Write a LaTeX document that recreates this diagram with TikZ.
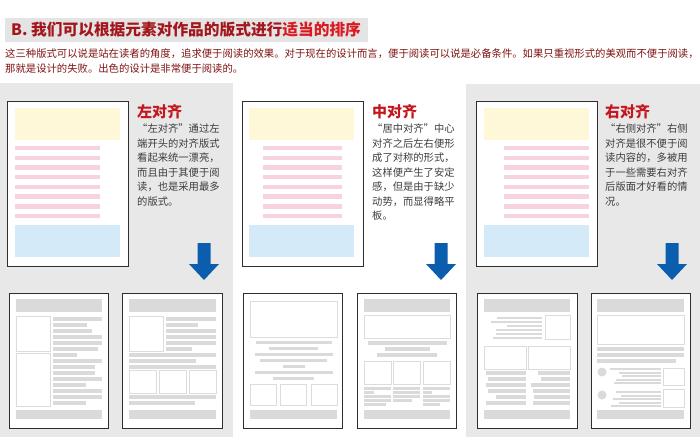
\documentclass[tikz,border=0pt]{standalone}
\usepackage{fontspec}
\setmainfont{Noto Sans CJK SC}
\usetikzlibrary{calc}

\definecolor{panelgray}{HTML}{E8E8E8}
\definecolor{titlegray}{HTML}{E4E4E4}
\definecolor{titlered}{HTML}{A3161C}
\definecolor{hotred}{HTML}{DA1A21}
\definecolor{introred}{HTML}{7E1111}
\definecolor{headred}{HTML}{C4161C}
\definecolor{desctext}{HTML}{3C3C3C}
\definecolor{pageline}{HTML}{2E2E2E}
\definecolor{bargray}{HTML}{DADADA}
\definecolor{boxline}{HTML}{DCDCDC}
\definecolor{headyellow}{HTML}{FFF8D8}
\definecolor{linepink}{HTML}{F6D3DF}
\definecolor{footblue}{HTML}{D4EAF8}
\definecolor{arrowblue}{HTML}{0B5EAE}

\tikzset{
  page/.style={draw=pageline, fill=white, line width=0.9pt, inner sep=0pt},
  bigpage/.style={page, minimum width=121pt, minimum height=165pt, anchor=north west},
  picbox/.style={draw=boxline, fill=white, line width=0.9pt},
  alignhead/.style={text=headred, font=\fontsize{15}{15}\selectfont\bfseries, inner sep=0pt, anchor=west},
  aligntext/.style={text=desctext, font=\fontsize{10.3}{14.5}\selectfont, align=left, inner sep=0pt, anchor=north west},
}

\begin{document}
\begin{tikzpicture}[x=1pt,y=-1pt]
\useasboundingbox (0,0) rectangle (700,437);

\fill[titlegray] (5,18) rectangle (368,42);
\draw node[anchor=west, inner sep=0pt, font=\fontsize{15.7}{16}\selectfont\bfseries] (title) at (11,30)
  {\textcolor{titlered}{B. 我们可以根据元素对作品的版式进行}\textcolor{hotred}{适当的排序}};
\draw node[anchor=north west, inner sep=0pt, text=introred, font=\fontsize{10.35}{15}\selectfont, align=left] (intro) at (5,48.5)
  {这三种版式可以说是站在读者的角度，追求便于阅读的效果。对于现在的设计而言，便于阅读可以说是必备条件。如果只重视形式的美观而不便于阅读，\\那就是设计的失败。出色的设计是非常便于阅读的。};

\fill[panelgray] (0,83) rectangle (233,437);
\fill[panelgray] (466,84) rectangle (700,437);

\draw node[bigpage] (leftpage) at (7,101) {};
\fill[headyellow] ($(leftpage.north west)+(8,7)$) rectangle +(105,32);
\foreach \k in {0,...,7}
  \fill[linepink] ($(leftpage.north west)+(8,44.8+9.7*\k)$) rectangle +(85,4.5);
\fill[footblue] ($(leftpage.north west)+(8,124)$) rectangle +(105,32);
\draw node[alignhead] (lefthead) at (137,112) {左对齐};
\draw node[aligntext] (lefttext) at (137,124)
  {“左对齐”通过左\\端开头的对齐版式\\看起来统一漂亮，\\而且由于其便于阅\\读，也是采用最多\\的版式。};

\draw node[bigpage] (midpage) at (242,101) {};
\fill[headyellow] ($(midpage.north west)+(7,7)$) rectangle +(105,32);
\foreach \k in {0,...,7}
  \fill[linepink] ($(midpage.north west)+(21,44.8+9.7*\k)$) rectangle +(79,4.5);
\fill[footblue] ($(midpage.north west)+(7,124)$) rectangle +(105,32);
\draw node[alignhead] (midhead) at (372,112) {中对齐};
\draw node[aligntext] (midtext) at (372,124)
  {“居中对齐”中心\\对齐之后左右便形\\成了对称的形式，\\这样便产生了安定\\感，但是由于缺少\\动势，而显得略平\\板。};

\draw node[bigpage] (rightpage) at (476,101) {};
\fill[headyellow] ($(rightpage.north west)+(8,7)$) rectangle +(105,32);
\foreach \k in {0,...,7}
  \fill[linepink] ($(rightpage.north west)+(28,44.8+9.7*\k)$) rectangle +(85,4.5);
\fill[footblue] ($(rightpage.north west)+(8,124)$) rectangle +(105,32);
\draw node[alignhead] (righthead) at (605,112) {右对齐};
\draw node[aligntext] (righttext) at (605,124)
  {“右侧对齐”右侧\\对齐是很不便于阅\\读内容的，多被用\\于一些需要右对齐\\后版面才好看的情\\况。};

\foreach \cx in {204,441,672}
  \fill[arrowblue] (\cx-6.5,243) -- (\cx+6.5,243) -- (\cx+6.5,264) -- (\cx+15,264)
    -- (\cx,280) -- (\cx-15,264) -- (\cx-6.5,264) -- cycle;

\begin{scope}[shift={(9,293)}]
\draw[page] (0,0) rectangle (99,135);
\fill[bargray] (7,6) rectangle (93,19);
\draw[picbox] (7,23) rectangle (41,58);
\draw[picbox] (7,60) rectangle (41,113);
\foreach \e [count=\k from 0] in {93,78,83,93,93,89,68,93,86,86,93,77,93,93,77}
  \fill[bargray] (44,24+6*\k) rectangle (\e,27.5+6*\k);
\fill[bargray] (7,117) rectangle (93,126);
\end{scope}

\begin{scope}[shift={(122,293)}]
\draw[page] (0,0) rectangle (100,135);
\fill[bargray] (7,6) rectangle (94,19);
\draw[picbox] (7,23) rectangle (41,58);
\foreach \e [count=\k from 0] in {94,76,94,94,94,70}
  \fill[bargray] (44,24+6*\k) rectangle (\e,27.5+6*\k);
\foreach \e [count=\k from 0] in {94,74,94}
  \fill[bargray] (7,60+6*\k) rectangle (\e,63.5+6*\k);
\foreach \x in {7,37,67}
  \draw[picbox] (\x,77) rectangle (\x+27,100);
\foreach \e [count=\k from 0] in {94,73}
  \fill[bargray] (7,102+6*\k) rectangle (\e,105.5+6*\k);
\fill[bargray] (7,117) rectangle (94,126);
\end{scope}

\begin{scope}[shift={(243,293)}]
\draw[page] (0,0) rectangle (99,135);
\draw[picbox] (7,8) rectangle (94,44);
\foreach \w [count=\k from 0] in {76,49,78,67,22,78,41}
  \fill[bargray] (50.5-\w/2,47.5+6*\k) rectangle (50.5+\w/2,51+6*\k);
\foreach \x in {7,37,68}
  \draw[picbox] (\x,91) rectangle (\x+26,112.5);
\fill[bargray] (7,117) rectangle (94,126);
\end{scope}

\begin{scope}[shift={(357,293)}]
\draw[page] (0,0) rectangle (99,135);
\fill[bargray] (7,6) rectangle (93,19);
\draw[picbox] (7,22) rectangle (93,45);
\foreach \w [count=\k from 0] in {79,45,60}
  \fill[bargray] (50-\w/2,48+6*\k) rectangle (50+\w/2,51.5+6*\k);
\foreach \x in {7,36,66}
  \draw[picbox] (\x,68) rectangle (\x+27,91);
\foreach \e [count=\k from 0] in {34,17,34,34,29}
  \fill[bargray] (7,94+4*\k) rectangle (\e,96.5+4*\k);
\foreach \e [count=\k from 0] in {63,63,63,55}
  \fill[bargray] (36,94+4*\k) rectangle (\e,96.5+4*\k);
\foreach \e [count=\k from 0] in {93,75,93,93,83}
  \fill[bargray] (66,94+4*\k) rectangle (\e,96.5+4*\k);
\fill[bargray] (7,117) rectangle (93,126);
\end{scope}

\begin{scope}[shift={(477,293)}]
\draw[page] (0,0) rectangle (100,135);
\fill[bargray] (7,6) rectangle (93,19);
\foreach \s [count=\k from 0] in {20,14,30,19,19,16}
  \fill[bargray] (\s,23.5+4*\k) rectangle (65,26+4*\k);
\draw[picbox] (68,22) rectangle (93,46);
\draw[picbox] (7,53) rectangle (49,76);
\draw[picbox] (51,53) rectangle (93,76);
\foreach \s [count=\k from 0] in {9,11,9,11,19,9}
  \fill[bargray] (\s,78+6*\k) rectangle (49,81.5+6*\k);
\foreach \s [count=\k from 0] in {61,64,54,56,57,56}
  \fill[bargray] (\s,78+6*\k) rectangle (93,81.5+6*\k);
\fill[bargray] (7,117) rectangle (93,126);
\end{scope}

\begin{scope}[shift={(591,293)}]
\draw[page] (0,0) rectangle (99,135);
\fill[bargray] (6,6) rectangle (93,19);
\draw[picbox] (6,22) rectangle (93,51);
\foreach \e [count=\k from 0] in {93,93,85}
  \fill[bargray] (6,54+6*\k) rectangle (\e,57.5+6*\k);
\fill[bargray] (11,79) circle (4.5);
\foreach \s [count=\k from 0] in {19,28,31,25,23}
  \fill[bargray] (\s,75+3.5*\k) rectangle (70,77.2+3.5*\k);
\draw[picbox] (72,75) rectangle (93,92);
\fill[bargray] (11,102) circle (4.5);
\foreach \s [count=\k from 0] in {25,30,22,28,20}
  \fill[bargray] (\s,98+3.5*\k) rectangle (70,100.2+3.5*\k);
\draw[picbox] (72,96) rectangle (93,114);
\fill[bargray] (6,117) rectangle (93,126);
\end{scope}

\end{tikzpicture}
\end{document}
